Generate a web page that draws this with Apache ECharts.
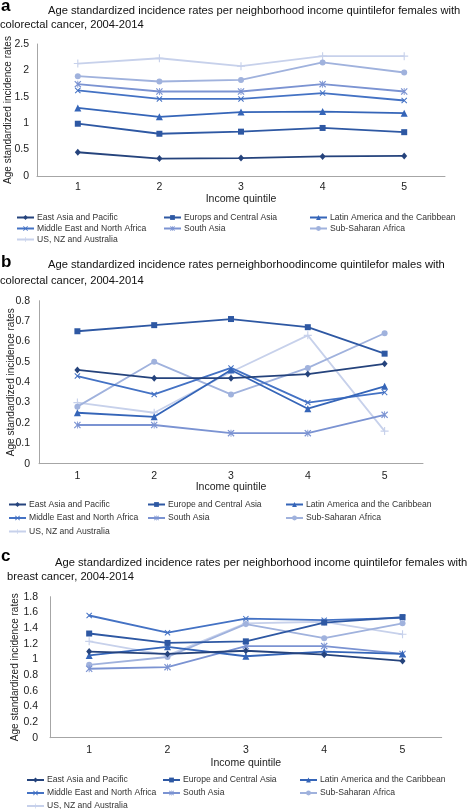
<!DOCTYPE html>
<html>
<head>
<meta charset="utf-8">
<script src="https://cdn.jsdelivr.net/npm/echarts@6/dist/echarts.min.js"></script>
<style>
html,body{margin:0;padding:0;background:#fff;}
#chart{width:471px;height:809px;}
</style>
</head>
<body>
<div id="chart"></div>
<script>
// ---------- data ----------
const categories = ['1', '2', '3', '4', '5'];
const regions = [
  'East Asia and Pacific',
  'Europe and Central Asia',
  'Latin America and the Caribbean',
  'Middle East and North Africa',
  'South Asia',
  'Sub-Saharan Africa',
  'US, NZ and Australia'
];
// panel a legend uses the spelling "Europs" in the source
const legendNamesA = ['East Asia and Pacific','Europs and Central Asia','Latin America and the Caribbean','Middle East and North Africa','South Asia','Sub-Saharan Africa','US, NZ and Australia'];

const titleA1 = 'Age standardized incidence rates per neighborhood income quintilefor females with';
const titleA2 = 'colorectal cancer, 2004-2014';
const titleB1 = 'Age standardized incidence rates perneighborhoodincome quintilefor males with';
const titleB2 = 'colorectal cancer, 2004-2014';
const titleC1 = 'Age standardized incidence rates per neighborhood income quintilefor females with';
const titleC2 = 'breast cancer, 2004-2014';
const yName = 'Age standardized incidence rates';
const xName = 'Income quintile';

// panel a: females, colorectal
const aEastAsia   = [0.45, 0.33, 0.34, 0.37, 0.38];
const aEurope     = [0.99, 0.80, 0.84, 0.91, 0.83];
const aLatin      = [1.29, 1.12, 1.21, 1.22, 1.19];
const aMidEast    = [1.62, 1.46, 1.46, 1.57, 1.43];
const aSouthAsia  = [1.74, 1.60, 1.60, 1.74, 1.60];
const aSubSahara  = [1.89, 1.79, 1.82, 2.15, 1.96];
const aUS         = [2.13, 2.23, 2.08, 2.27, 2.27];

// panel b: males, colorectal
const bEastAsia   = [0.46, 0.42, 0.42, 0.44, 0.49];
const bEurope     = [0.65, 0.68, 0.71, 0.67, 0.54];
const bLatin      = [0.25, 0.23, 0.46, 0.27, 0.38];
const bMidEast    = [0.43, 0.34, 0.47, 0.30, 0.35];
const bSouthAsia  = [0.19, 0.19, 0.15, 0.15, 0.24];
const bSubSahara  = [0.28, 0.50, 0.34, 0.47, 0.64];
const bUS         = [0.30, 0.25, 0.45, 0.63, 0.16];

// panel c: females, breast
const cEastAsia   = [1.10, 1.07, 1.11, 1.06, 0.98];
const cEurope     = [1.33, 1.21, 1.23, 1.47, 1.54];
const cLatin      = [1.05, 1.16, 1.04, 1.10, 1.07];
const cMidEast    = [1.56, 1.34, 1.52, 1.50, 1.53];
const cSouthAsia  = [0.88, 0.90, 1.17, 1.17, 1.07];
const cSubSahara  = [0.93, 1.03, 1.45, 1.27, 1.46];
const cUS         = [1.23, 1.05, 1.46, 1.48, 1.32];

const yTicksA = {min: 0, max: 2.5, interval: 0.5};
const yTicksB = {min: 0, max: 0.8, interval: 0.1};
const yTicksC = {min: 0, max: 1.8, interval: 0.2};

// ---------- styles ----------
const colors = ['#25437c', '#2e58a3', '#3565b8', '#4472c4', '#7b93d2', '#a0b2dd', '#c7d1eb'];
const X_PATH = 'path://M0,1.2L1.2,0L5,3.8L8.8,0L10,1.2L6.2,5L10,8.8L8.8,10L5,6.2L1.2,10L0,8.8L3.8,5Z';
const STAR_PATH = 'path://M0,1.2L1.2,0L5,3.8L8.8,0L10,1.2L6.2,5L10,8.8L8.8,10L5,6.2L1.2,10L0,8.8L3.8,5ZM4.4,0H5.6V10H4.4Z';
const PLUS_PATH = 'path://M4.3,0H5.7V4.3H10V5.7H5.7V10H4.3V5.7H0V4.3H4.3Z';
const symbols = ['diamond', 'rect', 'triangle', X_PATH, STAR_PATH, 'circle', PLUS_PATH];
const symbolSizes = [[6, 7], 6, 7, 6, 7, 6, 8];
const FONT = 'Liberation Sans, Arial, sans-serif';

const panels = [
  {
    data: [aEastAsia, aEurope, aLatin, aMidEast, aSouthAsia, aSubSahara, aUS],
    ticks: yTicksA,
    grid: {left: 37, top: 44, width: 408, height: 132},
    letter: 'a', letterTop: -2,
    t1: titleA1, t1Left: 48, t1Top: 5,
    t2: titleA2, t2Left: 0, t2Top: 19,
    yGap: 24, xGap: 17, xMargin: 6, yMargin: 8,
    legendNames: legendNamesA,
    legendCols: [16, 163, 309], legendRows: [213, 224, 235]
  },
  {
    data: [bEastAsia, bEurope, bLatin, bMidEast, bSouthAsia, bSubSahara, bUS],
    ticks: yTicksB,
    grid: {left: 39, top: 300.7, width: 384, height: 163},
    letter: 'b', letterTop: 254,
    t1: titleB1, t1Left: 48, t1Top: 259,
    t2: titleB2, t2Left: 0, t2Top: 275,
    yGap: 23, xGap: 17, xMargin: 6.5, yMargin: 9,
    legendNames: regions,
    legendCols: [8, 147, 285], legendRows: [500, 513.5, 527]
  },
  {
    data: [cEastAsia, cEurope, cLatin, cMidEast, cSouthAsia, cSubSahara, cUS],
    ticks: yTicksC,
    grid: {left: 50, top: 596.7, width: 391.7, height: 141},
    letter: 'c', letterTop: 548,
    t1: titleC1, t1Left: 55, t1Top: 557,
    t2: titleC2, t2Left: 7, t2Top: 571,
    yGap: 30, xGap: 20, xMargin: 6.5, yMargin: 12,
    legendNames: regions,
    legendCols: [26, 162, 299], legendRows: [775.5, 788.5, 801.5]
  }
];

const option = {
  backgroundColor: '#fff',
  animation: false,
  textStyle: {fontFamily: FONT},
  title: [],
  grid: [],
  xAxis: [],
  yAxis: [],
  legend: [],
  series: []
};

panels.forEach((p, pi) => {
  option.title.push(
    {text: p.letter, left: 1, top: p.letterTop, padding: 0,
     textStyle: {fontFamily: FONT, fontSize: 17, fontWeight: 'bold', color: '#000'}},
    {text: p.t1, left: p.t1Left, top: p.t1Top, padding: 0,
     textStyle: {fontFamily: FONT, fontSize: 11.2, fontWeight: 'normal', color: '#111'}},
    {text: p.t2, left: p.t2Left, top: p.t2Top, padding: 0,
     textStyle: {fontFamily: FONT, fontSize: 11.2, fontWeight: 'normal', color: '#111'}}
  );
  option.grid.push(Object.assign({containLabel: false, outerBoundsMode: 'none'}, p.grid));
  option.xAxis.push({
    type: 'category', gridIndex: pi, data: categories, boundaryGap: true,
    name: xName, nameLocation: 'middle', nameGap: p.xGap,
    nameTextStyle: {fontFamily: FONT, fontSize: 10.5, color: '#222'},
    axisLine: {lineStyle: {color: '#a6a6a6', width: 1}},
    axisTick: {show: false},
    axisLabel: {fontFamily: FONT, fontSize: 10.5, color: '#222', margin: p.xMargin},
    splitLine: {show: false}
  });
  option.yAxis.push({
    type: 'value', gridIndex: pi,
    min: p.ticks.min, max: p.ticks.max, interval: p.ticks.interval,
    name: yName, nameLocation: 'middle', nameRotate: 90, nameGap: p.yGap,
    nameMoveOverlap: false,
    nameTextStyle: {fontFamily: FONT, fontSize: 10, color: '#222'},
    axisLine: {show: true, lineStyle: {color: '#a6a6a6', width: 1}},
    axisTick: {show: false},
    axisLabel: {fontFamily: FONT, fontSize: 10.5, color: '#222', margin: p.yMargin},
    splitLine: {show: false}
  });
  p.data.forEach((vals, si) => {
    option.series.push({
      type: 'line', name: p.legendNames[si], xAxisIndex: pi, yAxisIndex: pi,
      data: vals,
      symbol: symbols[si], symbolSize: symbolSizes[si],
      showSymbol: true,
      lineStyle: {color: colors[si], width: 1.8},
      itemStyle: {color: colors[si]},
      z: 10 - si
    });
    const col = si % 3, row = Math.floor(si / 3);
    option.legend.push({
      data: [p.legendNames[si]],
      left: p.legendCols[col], top: p.legendRows[row],
      padding: 0, itemGap: 0, itemWidth: 17, itemHeight: 6,
      selectedMode: false,
      textStyle: {fontFamily: FONT, fontSize: 8.6, color: '#333', padding: [0, 0, 0, -2]}
    });
  });
});

const chart = echarts.init(document.getElementById('chart'), null, {renderer: 'canvas'});
chart.setOption(option);
</script>
</body>
</html>
